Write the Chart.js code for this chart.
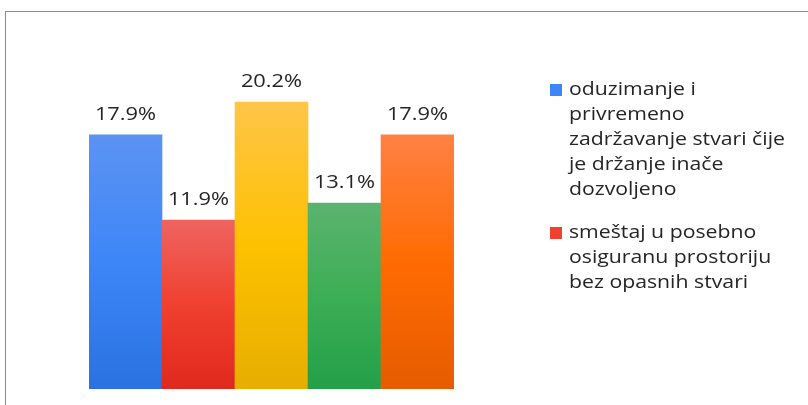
<!DOCTYPE html>
<html>
<head>
<meta charset="utf-8">
<script src="https://cdn.jsdelivr.net/npm/chart.js@4/dist/chart.umd.min.js"></script>
<style>
html, body { margin: 0; padding: 0; background: #fff; overflow: hidden; }
#wrap { position: relative; width: 808px; height: 405px; }
#frame { position: absolute; left: 5px; top: 11px; width: 830px; height: 430px; border: 1px solid #8c8c8c; }
#c { position: absolute; left: 0; top: 0; }
</style>
</head>
<body>
<div id="wrap">
  <div id="frame"></div>
  <canvas id="c" width="808" height="405"></canvas>
</div>
<script>
// data
const categories = [
  'oduzimanje i privremeno zadržavanje stvari čije je držanje inače dozvoljeno',
  'smeštaj u posebno osiguranu prostoriju bez opasnih stvari',
  'kategorija 3',
  'kategorija 4',
  'kategorija 5'
];
const values = [17.9, 11.9, 20.2, 13.1, 17.9];
const valueLabels = ['17.9%', '11.9%', '20.2%', '13.1%', '17.9%'];
// only the first two legend entries fit in the picture
const legendLines = [
  ['oduzimanje i', 'privremeno', 'zadržavanje stvari čije', 'je držanje inače', 'dozvoljeno'],
  ['smeštaj u posebno', 'osiguranu prostoriju', 'bez opasnih stvari']
];
// top / middle / bottom of each bar gradient
const barColors = [
  ['#5c93f3', '#3d86f7', '#2a72e2'],
  ['#ee6460', '#f0402f', '#e0291e'],
  ['#ffc547', '#fdc100', '#e7ae00'],
  ['#5bb36f', '#3dae55', '#23a049'],
  ['#ff8143', '#ff6b02', '#e65c00']
];

const FONT = '"Open Sans", "Liberation Sans", sans-serif';
const TEXT_COLOR = '#252525';
const STRETCH = 1.18;

function stretchedText(ctx, text, x, y, align) {
  ctx.save();
  const w = ctx.measureText(text).width * STRETCH;
  let x0 = x;
  if (align === 'center') x0 = x - w / 2;
  ctx.translate(x0, y);
  ctx.scale(STRETCH, 1);
  ctx.textAlign = 'left';
  ctx.fillText(text, 0, 0);
  ctx.restore();
}

function barFill(context) {
  const c = barColors[context.dataIndex];
  const chart = context.chart;
  if (!chart.chartArea || context.type !== 'data') return c[1];
  const y = chart.scales.y;
  const top = y.getPixelForValue(values[context.dataIndex]);
  const base = y.getPixelForValue(0);
  const g = chart.ctx.createLinearGradient(0, top, 0, base);
  g.addColorStop(0, c[0]);
  g.addColorStop(0.5, c[1]);
  g.addColorStop(1, c[2]);
  return g;
}

const valueLabelPlugin = {
  id: 'valueLabels',
  afterDatasetsDraw(chart) {
    const ctx = chart.ctx;
    const meta = chart.getDatasetMeta(0);
    ctx.save();
    ctx.font = '18.5px ' + FONT;
    ctx.fillStyle = TEXT_COLOR;
    ctx.textBaseline = 'alphabetic';
    meta.data.forEach((bar, i) => {
      stretchedText(ctx, valueLabels[i], bar.x, bar.y - 15, 'center');
    });
    ctx.restore();
  }
};

const sideLegendPlugin = {
  id: 'sideLegend',
  afterDraw(chart) {
    const ctx = chart.ctx;
    ctx.save();
    ctx.font = '18px ' + FONT;
    ctx.textBaseline = 'alphabetic';
    let y = 95;
    legendLines.forEach((lines, i) => {
      ctx.fillStyle = barColors[i][1];
      ctx.fillRect(550, y - 11, 12, 12);
      ctx.fillStyle = TEXT_COLOR;
      lines.forEach((ln, k) => {
        stretchedText(ctx, ln, 569, y + k * 25, 'left');
      });
      y += lines.length * 25 + 18;
    });
    ctx.restore();
  }
};

new Chart(document.getElementById('c'), {
  type: 'bar',
  data: {
    labels: categories,
    datasets: [{
      data: values,
      backgroundColor: barFill,
      borderWidth: 0,
      categoryPercentage: 1.0,
      barPercentage: 1.0
    }]
  },
  options: {
    responsive: false,
    animation: false,
    layout: { padding: { left: 89, right: 354, top: 34, bottom: 16 } },
    plugins: {
      legend: { display: false },
      tooltip: { enabled: false }
    },
    scales: {
      x: { display: false },
      y: { display: false, min: 0, max: 25 }
    }
  },
  plugins: [valueLabelPlugin, sideLegendPlugin]
});
</script>
</body>
</html>
